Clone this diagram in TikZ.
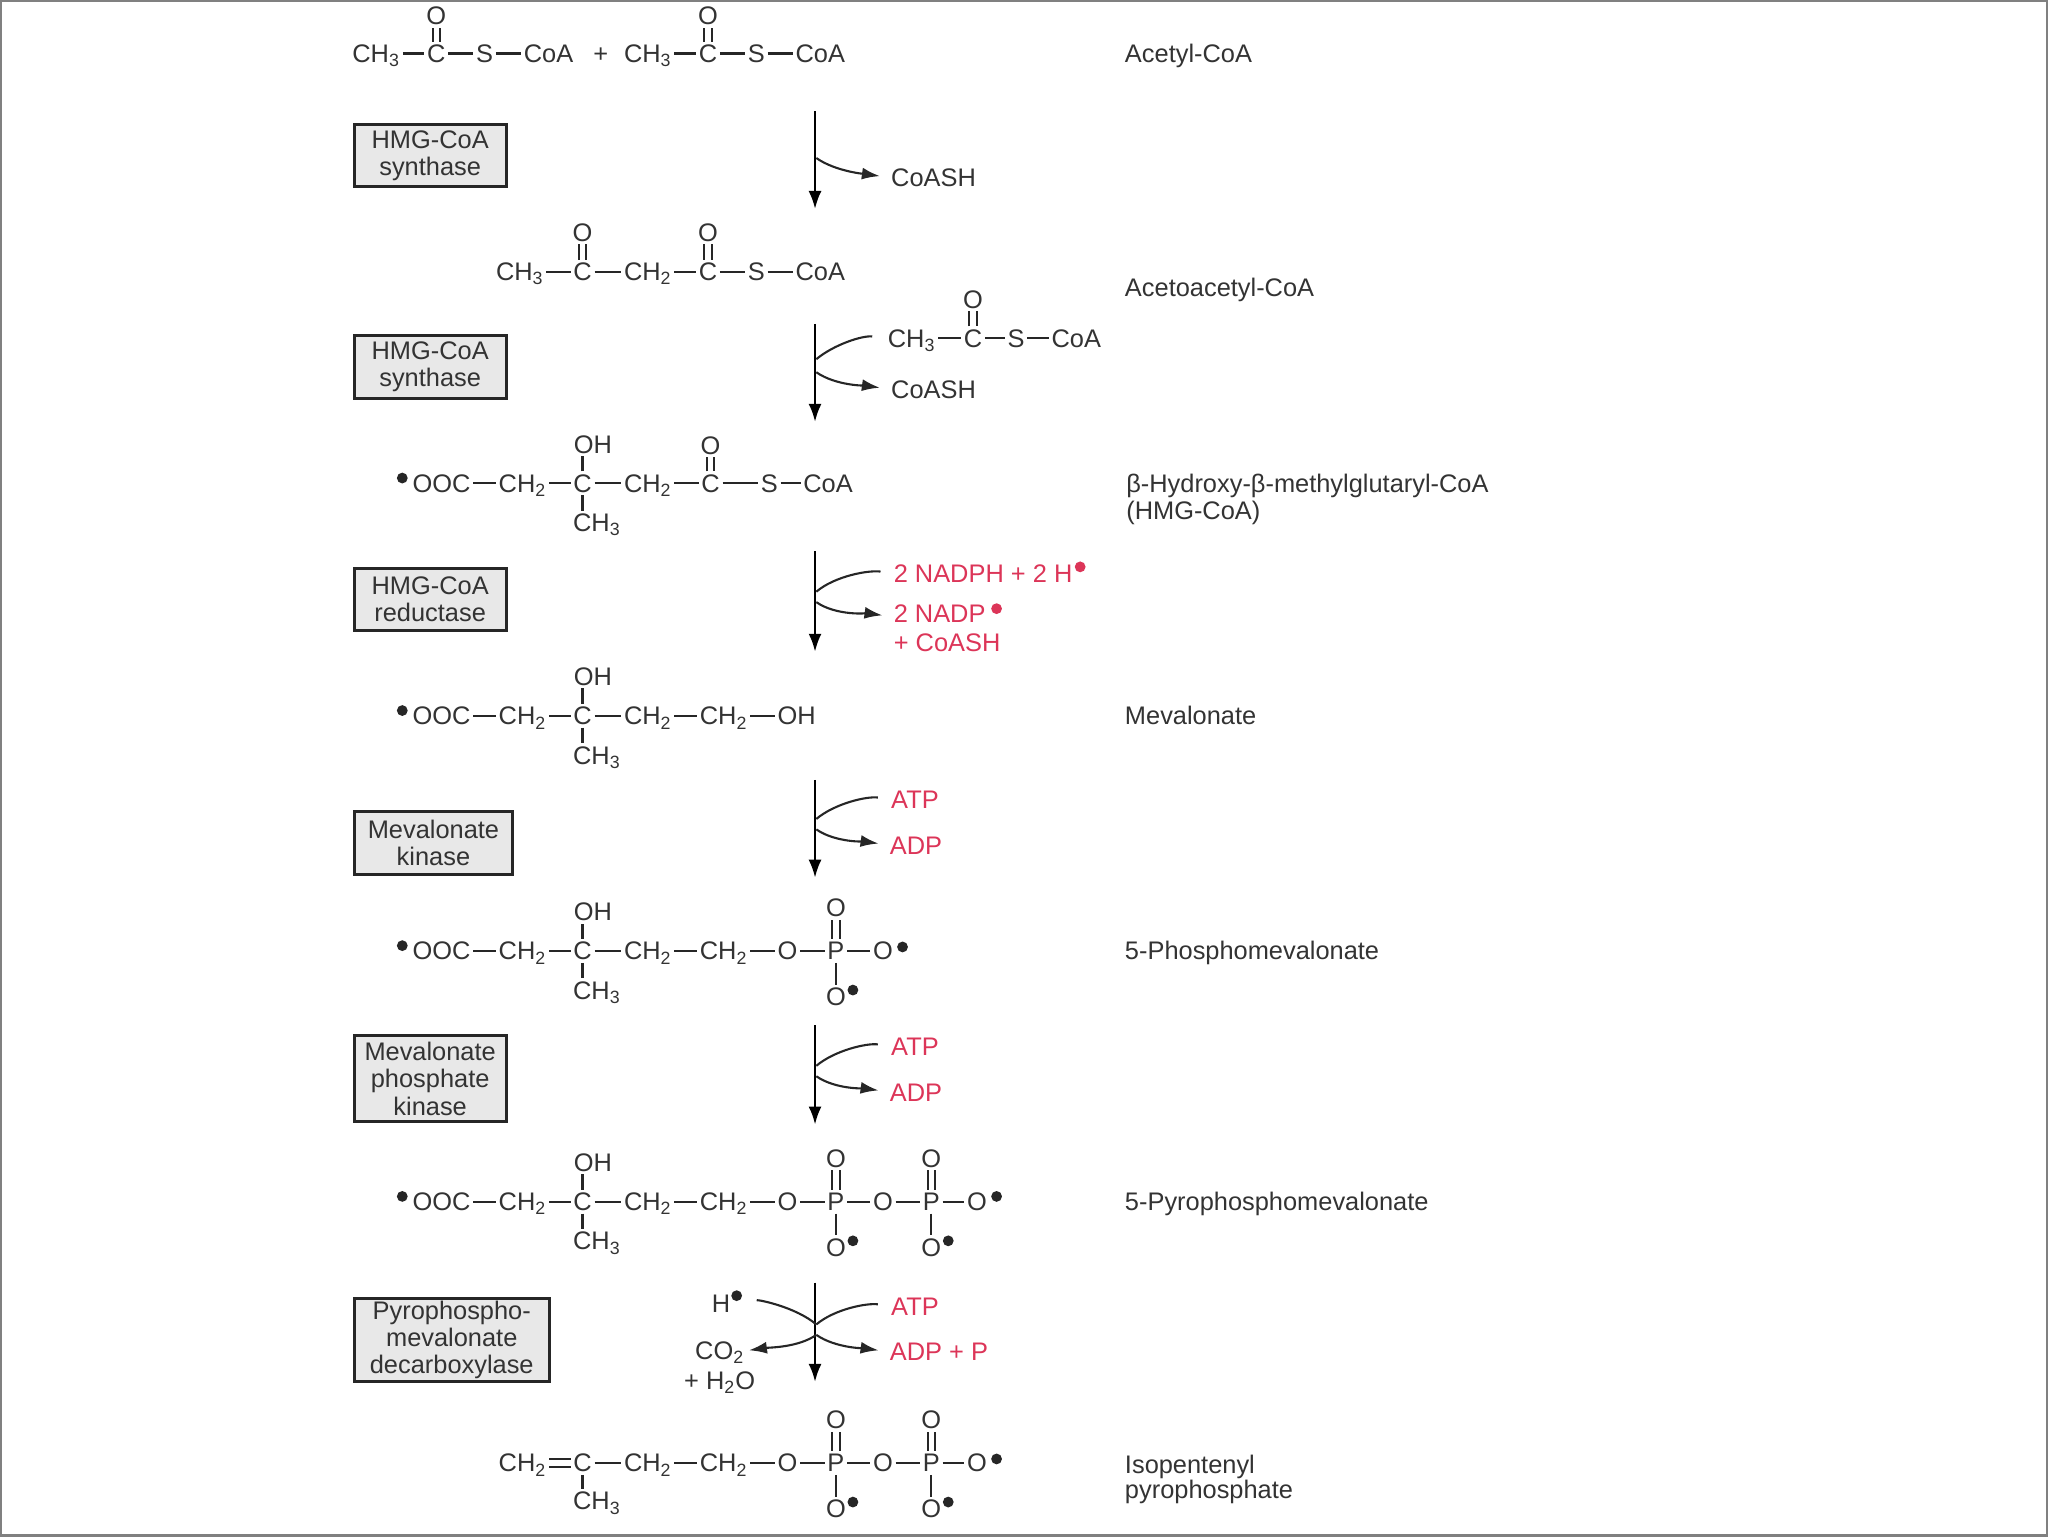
\documentclass[tikz,border=0pt]{standalone}
\usepackage{fontspec}
\setmainfont{Liberation Sans}
\usetikzlibrary{arrows.meta}
\definecolor{inkgray}{HTML}{333333}
\definecolor{cofactor}{HTML}{DC3558}
\definecolor{boxgray}{HTML}{E8E8E8}
\newcommand{\chthree}{CH\textsubscript{3}}
\newcommand{\chtwo}{CH\textsubscript{2}}
\tikzset{
  atom/.style={inner sep=1.2pt, text height=9.1pt, text depth=0pt, text=inkgray,
    font=\fontsize{12.7}{15}\selectfont},
  molname/.style={atom, anchor=west, inner sep=0pt},
  sidetext/.style={atom, anchor=west, inner sep=0pt},
  redtext/.style={sidetext, text=cofactor},
  bond/.style={draw=black!85, line width=1.1pt},
  dblbond/.style={draw=black!85, line width=1pt, double=white, double distance=2.7pt},
  charge/.style={circle, fill=black!85, inner sep=0pt, minimum size=5.4pt},
  redcharge/.style={charge, fill=cofactor},
  enzyme/.style={draw=black!85, line width=1.5pt, fill=boxgray, anchor=north west, align=center,
    inner sep=0pt, text=inkgray, font=\fontsize{12.7}{13.6}\selectfont},
  mainarrow/.style={draw=black, line width=1.2pt, -{Latex[length=9pt,width=6.5pt]}},
  productarrow/.style={draw=black!85, line width=1.05pt, -{Latex[length=9pt,width=6pt]}, shorten >=5.5pt},
  substrateline/.style={draw=black!85, line width=1.05pt, shorten <=6.5pt},
  sideout/.style={out=-35, in=172, looseness=0.8},
  sidein/.style={out=172, in=40, looseness=0.8},
}
\begin{document}
\begin{tikzpicture}[x=0.65306pt, y=-0.65306pt]
  \useasboundingbox (0,0) rectangle (1568,1176);
  \draw[black!50, line width=2pt] (0,0) rectangle (1568,1176);

  % OOC-CH2-C(OH)(CH3)-CH2 shared by four of the rows
  \def\mevchain#1#2{
    \node[charge] (#1neg) at (308,#2-4) {};
    \node[atom] (#1ooc) at (338,#2) {OOC};
    \node[atom] (#1cha) at (400,#2) {\chtwo};
    \node[atom] (#1c) at (446,#2) {C};
    \node[atom] (#1chb) at (496,#2) {\chtwo};
    \node[atom] (#1oh) at (454,#2-30) {OH};
    \node[atom] (#1me) at (457,#2+30) {\chthree};
    \draw[bond] (#1ooc) -- (#1cha);
    \draw[bond] (#1cha) -- (#1c);
    \draw[bond] (#1c) -- (#1chb);
    \draw[bond] (#1c.north) -- (#1c.north |- #1oh.south);
    \draw[bond] (#1c.south) -- (#1c.south |- #1me.north);
  }
  % P with its =O on top and O- below
  \def\phosgroup#1#2#3{
    \node[atom] (#1p) at (#2,#3) {P};
    \node[atom] (#1top) at (#2,#3-33) {O};
    \node[atom] (#1bot) at (#2,#3+35) {O};
    \node[charge] (#1neg) at (#2+13,#3+30) {};
    \draw[dblbond] (#1p) -- (#1top);
    \draw[bond] (#1p) -- (#1bot);
  }

  % acetyl-CoA x 2
  \node[atom] (amea) at (288,41) {\chthree};
  \node[atom] (aca) at (334,41) {C};
  \node[atom] (aoa) at (334,12) {O};
  \node[atom] (asa) at (371,41) {S};
  \node[atom] (acoaa) at (420,41) {CoA};
  \node[atom] (plus) at (460,41) {+};
  \node[atom] (ameb) at (496,41) {\chthree};
  \node[atom] (acb) at (542,41) {C};
  \node[atom] (aob) at (542,12) {O};
  \node[atom] (asb) at (579,41) {S};
  \node[atom] (acoab) at (628,41) {CoA};
  \foreach \a/\b in {amea/aca, aca/asa, asa/acoaa, ameb/acb, acb/asb, asb/acoab}
    \draw[bond] (\a) -- (\b);
  \draw[dblbond] (aca) -- (aoa);
  \draw[dblbond] (acb) -- (aob);
  \node[molname] (nacetyl) at (861,41) {Acetyl-CoA};

  % acetoacetyl-CoA
  \node[atom] (bme) at (398,208) {\chthree};
  \node[atom] (bca) at (446,208) {C};
  \node[atom] (boa) at (446,178) {O};
  \node[atom] (bch) at (496,208) {\chtwo};
  \node[atom] (bcb) at (542,208) {C};
  \node[atom] (bob) at (542,178) {O};
  \node[atom] (bs) at (579,208) {S};
  \node[atom] (bcoa) at (628,208) {CoA};
  \foreach \a/\b in {bme/bca, bca/bch, bch/bcb, bcb/bs, bs/bcoa}
    \draw[bond] (\a) -- (\b);
  \draw[dblbond] (bca) -- (boa);
  \draw[dblbond] (bcb) -- (bob);
  \node[molname] (nacetoacetyl) at (861,220) {Acetoacetyl-CoA};

  % HMG-CoA
  \mevchain{h}{370}
  \node[atom] (hcb) at (544,370) {C};
  \node[atom] (hob) at (544,341) {O};
  \node[atom] (hs) at (589,370) {S};
  \node[atom] (hcoa) at (634,370) {CoA};
  \foreach \a/\b in {hchb/hcb, hcb/hs, hs/hcoa}
    \draw[bond] (\a) -- (\b);
  \draw[dblbond] (hcb) -- (hob);
  \node[molname] (nhmga) at (862,370) {β-Hydroxy-β-methylglutaryl-CoA};
  \node[molname] (nhmgb) at (862,391) {(HMG-CoA)};

  % mevalonate
  \mevchain{m}{548}
  \node[atom] (mchc) at (554,548) {\chtwo};
  \node[atom] (mend) at (610,548) {OH};
  \draw[bond] (mchb) -- (mchc);
  \draw[bond] (mchc) -- (mend);
  \node[molname] (nmev) at (861,548) {Mevalonate};

  % 5-phosphomevalonate
  \mevchain{f}{728}
  \node[atom] (fchc) at (554,728) {\chtwo};
  \node[atom] (fo) at (603,728) {O};
  \phosgroup{fa}{640}{728}
  \node[atom] (fend) at (676,728) {O};
  \node[charge] (fendneg) at (691,725) {};
  \foreach \a/\b in {fchb/fchc, fchc/fo, fo/fap, fap/fend}
    \draw[bond] (\a) -- (\b);
  \node[molname] (nphos) at (861,728) {5-Phosphomevalonate};

  % 5-pyrophosphomevalonate
  \mevchain{y}{920}
  \node[atom] (ychc) at (554,920) {\chtwo};
  \node[atom] (yo) at (603,920) {O};
  \phosgroup{ya}{640}{920}
  \node[atom] (yob) at (676,920) {O};
  \phosgroup{yb}{713}{920}
  \node[atom] (yend) at (748,920) {O};
  \node[charge] (yendneg) at (763,916) {};
  \foreach \a/\b in {ychb/ychc, ychc/yo, yo/yap, yap/yob, yob/ybp, ybp/yend}
    \draw[bond] (\a) -- (\b);
  \node[molname] (npyro) at (861,920) {5-Pyrophosphomevalonate};

  % isopentenyl pyrophosphate
  \node[atom] (icha) at (400,1120) {\chtwo};
  \node[atom] (ic) at (446,1120) {C};
  \node[atom] (ime) at (457,1149) {\chthree};
  \node[atom] (ichb) at (496,1120) {\chtwo};
  \node[atom] (ichc) at (554,1120) {\chtwo};
  \node[atom] (io) at (603,1120) {O};
  \phosgroup{ia}{640}{1120}
  \node[atom] (iob) at (676,1120) {O};
  \phosgroup{ib}{713}{1120}
  \node[atom] (iend) at (748,1120) {O};
  \node[charge] (iendneg) at (763,1117) {};
  \foreach \a/\b in {ic/ichb, ichb/ichc, ichc/io, io/iap, iap/iob, iob/ibp, ibp/iend}
    \draw[bond] (\a) -- (\b);
  \draw[dblbond] (icha) -- (ic);
  \draw[bond] (ic.south) -- (ic.south |- ime.north);
  \node[molname] (niso) at (861,1121) {Isopentenyl};
  \node[molname] (nisob) at (861,1140) {pyrophosphate};

  % enzymes
  \node[enzyme, minimum width=76pt, minimum height=31.2pt] (enza) at (270,94) {HMG-CoA\\synthase};
  \node[enzyme, minimum width=76pt, minimum height=31.2pt] (enzb) at (270,256) {HMG-CoA\\synthase};
  \node[enzyme, minimum width=76pt, minimum height=31.2pt] (enzc) at (270,434) {HMG-CoA\\reductase};
  \node[enzyme, minimum width=79.3pt, minimum height=31.8pt] (enzd) at (270,620) {Mevalonate\\kinase};
  \node[enzyme, minimum width=76pt, minimum height=42.9pt] (enze) at (270,792) {Mevalonate\\phosphate\\kinase};
  \node[enzyme, minimum width=97.6pt, minimum height=41.6pt] (enzf) at (270,993) {Pyrophospho-\\mevalonate\\decarboxylase};

  % step 1
  \coordinate (sa) at (624,85);
  \coordinate (ea) at (624,160);
  \coordinate (ja) at (625,121);
  \draw[mainarrow] (sa) -- (ea);
  \node[sidetext] (pa) at (682,136) {CoASH};
  \draw[productarrow] (ja) to[sideout] (pa.west);

  % step 2
  \coordinate (sb) at (624,248);
  \coordinate (eb) at (624,323);
  \coordinate (jba) at (625,275);
  \coordinate (jbb) at (625,285);
  \node[atom] (cme) at (698,259) {\chthree};
  \node[atom] (cc) at (745,259) {C};
  \node[atom] (co) at (745,229) {O};
  \node[atom] (cs) at (778,259) {S};
  \node[atom] (ccoa) at (824,259) {CoA};
  \foreach \a/\b in {cme/cc, cc/cs, cs/ccoa}
    \draw[bond] (\a) -- (\b);
  \draw[dblbond] (cc) -- (co);
  \draw[mainarrow] (sb) -- (eb);
  \node[sidetext] (pb) at (682,298) {CoASH};
  \draw[substrateline] (cme.west) to[sidein] (jba);
  \draw[productarrow] (jbb) to[sideout] (pb.west);

  % step 3
  \coordinate (sc) at (624,422);
  \coordinate (ec) at (624,499);
  \coordinate (jca) at (625,453);
  \coordinate (jcb) at (625,461);
  \draw[mainarrow] (sc) -- (ec);
  \node[redtext] (nadph) at (684,439) {2 NADPH + 2 H};
  \node[redcharge] (hplusa) at (827,434) {};
  \node[redtext] (nadp) at (684,470) {2 NADP};
  \node[redcharge] (nadpplus) at (763,466) {};
  \node[redtext] (coashc) at (684,492) {+ CoASH};
  \draw[substrateline] (nadph.west) to[sidein] (jca);
  \draw[productarrow] (jcb) to[sideout] ([yshift=-1.5pt]nadp.west);

  % steps 4 and 5
  \coordinate (sd) at (624,597);
  \coordinate (ed) at (624,672);
  \coordinate (jda) at (625,627);
  \coordinate (jdb) at (625,635);
  \draw[mainarrow] (sd) -- (ed);
  \node[redtext] (atpd) at (682,612) {ATP};
  \node[redtext] (adpd) at (681,647) {ADP};
  \draw[substrateline] (atpd.west) to[sidein] (jda);
  \draw[productarrow] (jdb) to[sideout] (adpd.west);

  \coordinate (se) at (624,785);
  \coordinate (ee) at (624,861);
  \coordinate (jea) at (625,816);
  \coordinate (jeb) at (625,824);
  \draw[mainarrow] (se) -- (ee);
  \node[redtext] (atpe) at (682,801) {ATP};
  \node[redtext] (adpe) at (681,836) {ADP};
  \draw[substrateline] (atpe.west) to[sidein] (jea);
  \draw[productarrow] (jeb) to[sideout] (adpe.west);

  % step 6
  \coordinate (sf) at (624,982);
  \coordinate (ef) at (624,1058);
  \coordinate (jfa) at (625,1014);
  \coordinate (jfb) at (625,1022);
  \draw[mainarrow] (sf) -- (ef);
  \node[redtext] (atpf) at (682,1000) {ATP};
  \node[redtext] (adpf) at (681,1035) {ADP + P};
  \node[atom] (hion) at (552,998) {H};
  \node[charge] (hplusf) at (564,992) {};
  \node[atom] (coo) at (551,1034) {CO\textsubscript{2}};
  \node[atom] (water) at (551,1057) {+ H\textsubscript{2}O};
  \draw[substrateline] (atpf.west) to[sidein] (jfa);
  \draw[productarrow] (jfb) to[sideout] (adpf.west);
  \draw[substrateline, shorten <=12pt] (hion.east) to[out=8, in=140, looseness=0.8] (jfa);
  \draw[productarrow, shorten >=1pt] (jfb) to[out=-145, in=8, looseness=0.8] (coo.east);
\end{tikzpicture}
\end{document}
